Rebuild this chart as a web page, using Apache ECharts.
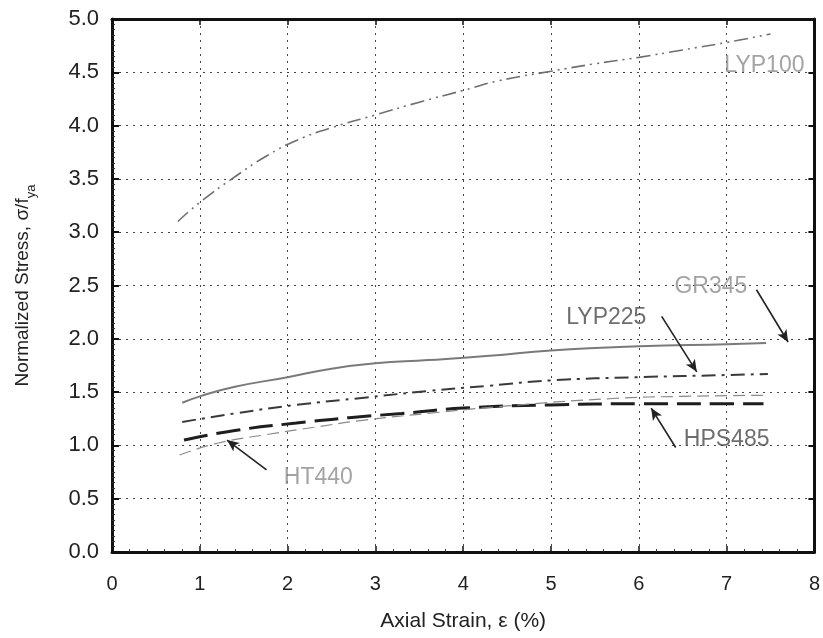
<!DOCTYPE html>
<html>
<head>
<meta charset="utf-8">
<script src="https://cdn.jsdelivr.net/npm/echarts@6/dist/echarts.min.js"></script>
<style>
html,body{margin:0;padding:0;background:#fff;}
#chart{width:823px;height:638px;}
</style>
</head>
<body>
<div id="chart"></div>
<script>
// ---- data ----
const xTicks = [0,1,2,3,4,5,6,7,8];
const yTicks = [0,0.5,1,1.5,2,2.5,3,3.5,4,4.5,5];

const lyp100X = [0.75,1.0,1.4,1.75,2.1,2.5,3.0,3.5,4.0,4.4,5.0,5.5,6.0,6.5,7.0,7.5];
const lyp100Y = [3.10,3.28,3.52,3.71,3.86,3.98,4.10,4.22,4.33,4.42,4.51,4.58,4.64,4.71,4.78,4.86];

const gr345X = [0.8,1.0,1.4,2.0,2.5,3.0,3.6,4.3,5.0,6.0,7.0,7.45];
const gr345Y = [1.40,1.46,1.55,1.64,1.72,1.77,1.80,1.84,1.89,1.93,1.95,1.96];

const lyp225X = [0.8,1.4,2.1,2.9,3.6,4.3,5.0,6.0,7.0,7.47];
const lyp225Y = [1.22,1.30,1.38,1.45,1.51,1.56,1.61,1.64,1.66,1.67];

const hps485X = [0.82,1.4,2.1,2.7,3.3,4.0,5.0,6.0,7.0,7.42];
const hps485Y = [1.05,1.14,1.21,1.26,1.30,1.35,1.38,1.39,1.39,1.39];

const ht440X = [0.77,1.2,1.75,2.3,2.9,3.6,4.5,5.7,6.5,7.42];
const ht440Y = [0.91,1.02,1.10,1.17,1.24,1.30,1.37,1.44,1.46,1.47];

// annotation labels (data units) and arrows
const labelNames = ['LYP100','GR345','LYP225','HPS485','HT440'];
const labelX = [7.43,6.82,5.63,7.0,2.35];
const labelY = [4.56,2.49,2.20,1.05,0.70];
const arrowFromX = [null,7.34,6.26,6.42,1.76];
const arrowFromY = [null,2.46,2.21,0.98,0.77];
const arrowToX = [null,7.70,6.66,6.14,1.31];
const arrowToY = [null,1.97,1.69,1.35,1.05];

// ---- chart ----
const FONT = 'Liberation Sans, Arial, sans-serif';
const zip = (xs, ys) => xs.map((x,i)=>[x, ys[i]]);
const chart = echarts.init(document.getElementById('chart'));

const labelColors = {LYP100:'#8c8c8c', GR345:'#8c8c8c', LYP225:'#4a4a4a', HPS485:'#4a4a4a', HT440:'#8c8c8c'};
const arrows = [];
for (let i=0;i<labelNames.length;i++){
  if (arrowFromX[i]===null) continue;
  arrows.push([{coord:[arrowFromX[i],arrowFromY[i]]},{coord:[arrowToX[i],arrowToY[i]]}]);
}

const option = {
  animation:false,
  backgroundColor:'#fff',
  grid:{left:112,right:1,top:19,bottom:86,show:false},
  xAxis:[{
    type:'value',min:0,max:8,interval:1,
    name:'Axial Strain, ε (%)',nameLocation:'middle',nameGap:59,
    nameTextStyle:{fontFamily:FONT,fontSize:21,color:'#222'},
    axisLine:{show:true,onZero:false,lineStyle:{color:'#111',width:3}},
    axisTick:{show:true,inside:true,length:6,lineStyle:{color:'#111',width:1.5}},
    minorTick:{show:true,splitNumber:5,length:3,lineStyle:{color:'#333'}},
    axisLabel:{margin:22,fontFamily:FONT,fontSize:20,color:'#222',formatter:v=>String(v)},
    splitLine:{show:true,lineStyle:{color:'#444',type:[2,5],width:1}}
  },{
    type:'value',min:0,max:8,interval:1,position:'top',
    axisLine:{show:true,onZero:false,lineStyle:{color:'#111',width:3}},
    axisTick:{show:true,inside:true,length:6,lineStyle:{color:'#111',width:1.5}},
    axisLabel:{show:false},splitLine:{show:false}
  }],
  yAxis:[{
    type:'value',min:0,max:5,interval:0.5,
    name:'Normalized Stress, σ/f{s|ya}',nameLocation:'middle',nameGap:80,
    nameTextStyle:{fontFamily:FONT,fontSize:19,color:'#222',
      rich:{s:{fontFamily:FONT,fontSize:13,color:'#222',verticalAlign:'bottom',padding:[0,0,-6,0]}}},
    axisLine:{show:true,onZero:false,lineStyle:{color:'#111',width:3}},
    axisTick:{show:true,inside:true,length:7,lineStyle:{color:'#111',width:2}},
    minorTick:{show:true,splitNumber:10,length:3,lineStyle:{color:'#333'}},
    axisLabel:{margin:13,fontFamily:FONT,fontSize:22,color:'#222',formatter:v=>v.toFixed(1)},
    splitLine:{show:true,lineStyle:{color:'#444',type:[2,5],width:1}}
  },{
    type:'value',min:0,max:5,interval:0.5,position:'right',
    axisLine:{show:true,onZero:false,lineStyle:{color:'#111',width:3}},
    axisTick:{show:true,inside:true,length:6,lineStyle:{color:'#111',width:2}},
    axisLabel:{show:false},splitLine:{show:false}
  }],
  series:[
    {name:'LYP100',type:'line',smooth:true,showSymbol:false,data:zip(lyp100X,lyp100Y),
     lineStyle:{color:'#6f6f6f',width:1.6,type:[14,5,2,5,2,5]}},
    {name:'GR345',type:'line',smooth:true,showSymbol:false,data:zip(gr345X,gr345Y),
     lineStyle:{color:'#7a7a7a',width:2,type:'solid'}},
    {name:'LYP225',type:'line',smooth:true,showSymbol:false,data:zip(lyp225X,lyp225Y),
     lineStyle:{color:'#3a3a3a',width:2,type:[14,6,3,6]}},
    {name:'HPS485',type:'line',smooth:true,showSymbol:false,data:zip(hps485X,hps485Y),
     lineStyle:{color:'#1e1e1e',width:3,type:[24,9]}},
    {name:'HT440',type:'line',smooth:true,showSymbol:false,data:zip(ht440X,ht440Y),
     lineStyle:{color:'#8a8a8a',width:1.2,type:[12,6]}},
    {name:'labels',type:'scatter',symbolSize:0,silent:true,
     data:labelNames.map((n,i)=>({name:n,value:[labelX[i],labelY[i]],
       label:{show:true,position:'inside',formatter:n,fontFamily:FONT,fontSize:23,color:labelColors[n]}})),
     markLine:{silent:true,symbol:['none','arrow'],symbolSize:[8,12],
       lineStyle:{color:'#222',width:1.6,type:'solid'},label:{show:false},
       data:arrows}}
  ]
};
chart.setOption(option);
</script>
</body>
</html>
